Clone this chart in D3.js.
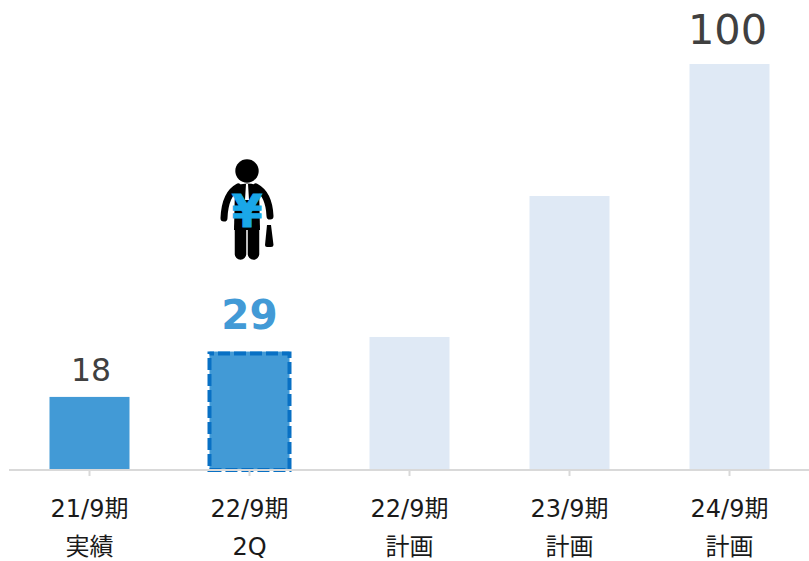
<!DOCTYPE html>
<html><head><meta charset="utf-8">
<script src="https://cdnjs.cloudflare.com/ajax/libs/d3/7.8.5/d3.min.js"></script>
<style>html,body{margin:0;padding:0;background:#fff}svg{display:block}
text{font-family:"DejaVu Sans","Noto Sans CJK JP",sans-serif}</style></head><body>
<svg id="c" width="809" height="561"></svg>
<script>
const periods=["21/9期","22/9期","22/9期","23/9期","24/9期"];
const subLabels=["実績","2Q","計画","計画","計画"];
const keys=["a","b","c","d","e"];
const values=[17.8,29,32.6,67.4,100];
const valueLabels=["18","29","","","100"];
const fills=["#429ad6","#429ad6","#dfe9f5","#dfe9f5","#dfe9f5"];

const svg=d3.select("#c");
const x=d3.scaleBand().domain(keys).range([9.5,809.5]).paddingInner(0.5).paddingOuter(0.25);
const y=d3.scaleLinear().domain([0,100]).range([469,64]);

svg.append("g").selectAll("rect").data(keys).join("rect")
 .attr("x",d=>x(d)).attr("width",x.bandwidth())
 .attr("y",(d,i)=>y(values[i])).attr("height",(d,i)=>y(0)-y(values[i]))
 .attr("fill",(d,i)=>fills[i]);

// dashed highlight on the 2Q bar
svg.append("rect").attr("x",x("b")).attr("width",x.bandwidth())
 .attr("y",y(values[1])+2).attr("height",y(0)-y(values[1])-1)
 .attr("fill","none").attr("stroke","#0870c4").attr("stroke-width",4)
 .attr("stroke-dasharray","12 4").attr("stroke-dashoffset",7.5);

const gx=svg.append("g").attr("transform","translate(0,470)");
gx.call(d3.axisBottom(x).tickSize(6).tickFormat(""));
gx.select(".domain").attr("stroke","#d9d9d9").attr("stroke-width",2).attr("d","M9,0H809");
gx.selectAll(".tick line").attr("stroke","#d9d9d9").attr("stroke-width",2);

// value labels
const lab=svg.append("g").attr("text-anchor","middle");
lab.selectAll("text").data(keys).join("text")
 .attr("x",(d,i)=>x(d)+x.bandwidth()/2+(i==0?1.5:i==4?-2:0))
 .attr("y",(d,i)=>y(values[i])-(i==1?22.5:i==0?15.5:20))
 .attr("font-size",(d,i)=>i==0?31.5:i==1?40.5:41.5)
 .attr("font-weight",(d,i)=>i==1?"bold":"normal")
 .attr("fill",(d,i)=>i==1?"#429ad6":"#404040")
 .text((d,i)=>valueLabels[i]);

// category labels
const cat=svg.append("g").attr("text-anchor","middle").attr("fill","#1a1a1a").attr("font-size",24);
cat.selectAll("text.p").data(keys).join("text").attr("class","p")
 .attr("x",d=>x(d)+x.bandwidth()/2).attr("y",517).text((d,i)=>periods[i]);
cat.selectAll("text.s").data(keys).join("text").attr("class","s")
 .attr("x",d=>x(d)+x.bandwidth()/2).attr("y",555).text((d,i)=>subLabels[i]);

// businessman icon
const icon=svg.append("g").attr("transform","translate(190,150)");
icon.append("circle").attr("cx",57).attr("cy",21).attr("r",11.7).attr("fill","#000");
icon.append("path").attr("fill","#000").attr("d","M45,36 Q57,31 69,36 L70,80 H44Z");
icon.append("path").attr("fill","none").attr("stroke","#000").attr("stroke-width",7).attr("stroke-linecap","round")
 .attr("d","M48,37 Q35,44 34,68 M66,37 Q79,44 80,66");
icon.append("path").attr("fill","none").attr("stroke","#000").attr("stroke-width",11.5).attr("stroke-linecap","round")
 .attr("d","M50.5,76 V104 M63.5,76 V104");
icon.append("path").attr("fill","#000").attr("d","M77,75 H81 L83.5,95 Q83.5,97 81,97 H77 Q75,97 75,95Z");
icon.append("path").attr("fill","#fff").attr("d","M56,34 H58 L59,50 H55Z");
icon.append("text").attr("x",57).attr("y",76.5).attr("text-anchor","middle")
 .attr("font-size",44).attr("font-weight","bold").attr("fill","#1aa7e8")
 .attr("stroke","#1aa7e8").attr("stroke-width",1).text("¥");
</script></body></html>
